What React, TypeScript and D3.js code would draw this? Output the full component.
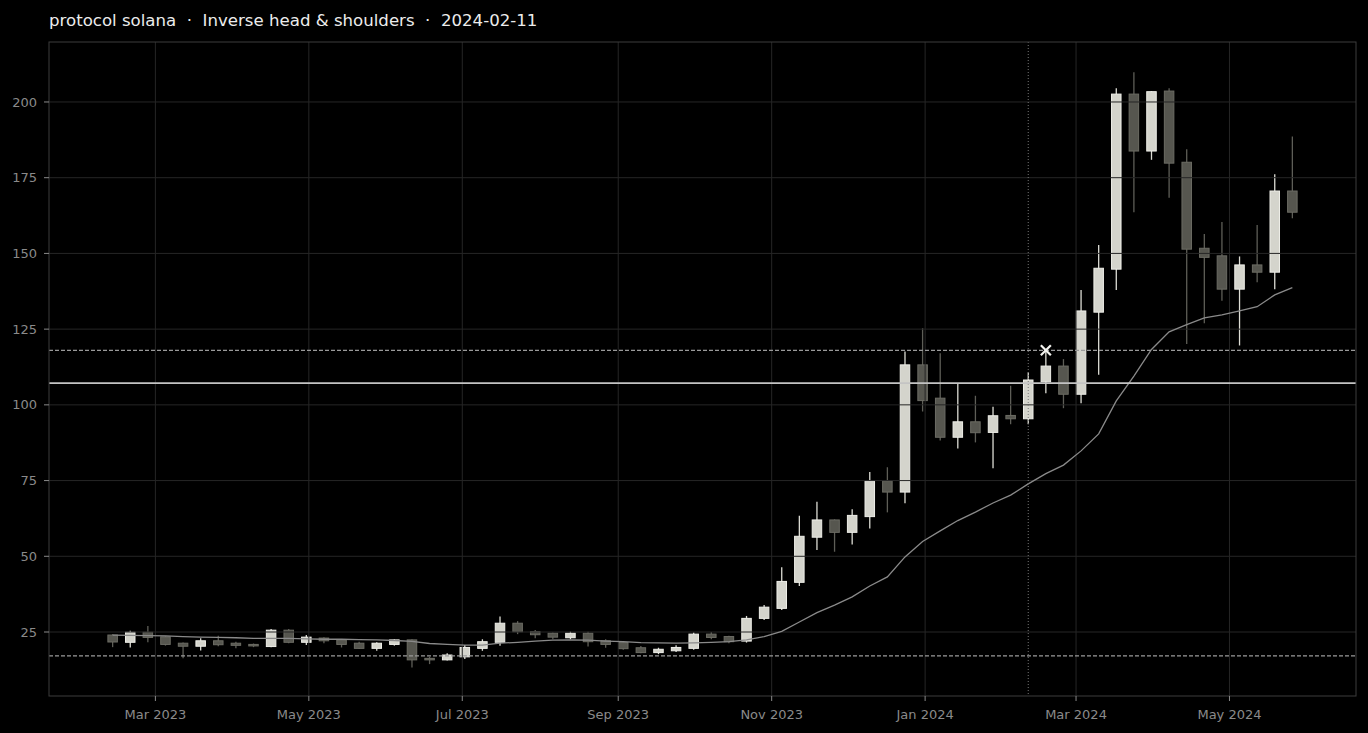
import * as d3 from "d3"

// weekly candles, first week starts Sunday 2023-02-12
const firstWeek = "2023-02-12"
const opens = [
  24.0, 21.6, 24.9, 23.4, 21.3, 20.3, 22.1, 21.3, 20.9, 20.2, 25.6, 21.6,
  23.0, 22.4, 21.3, 19.6, 20.9, 22.4, 16.3, 15.8, 16.8, 19.6, 21.6, 27.9,
  25.1, 24.6, 23.1, 24.6, 22.1, 21.5, 19.8, 18.2, 18.8, 19.6, 24.3, 23.5,
  22.0, 29.5, 32.8, 41.4, 56.3, 62.0, 57.9, 63.1, 74.9, 71.2, 113.2, 102.2,
  89.3, 94.4, 90.9, 96.5, 95.4, 107.6, 112.8, 103.5, 130.6, 144.8, 202.6, 183.8,
  203.6, 180.1, 151.7, 149.2, 138.2, 146.2, 143.8, 170.6,
]
const highs = [
  24.3, 25.4, 27.0, 23.6, 21.5, 22.9, 23.8, 21.8, 21.2, 26.0, 26.0, 24.0,
  23.3, 22.6, 21.8, 21.6, 22.6, 22.6, 16.8, 18.0, 20.7, 22.6, 30.1, 28.6,
  25.7, 24.8, 25.1, 25.1, 22.6, 21.9, 20.4, 19.8, 20.6, 24.8, 25.0, 23.8,
  30.3, 33.9, 46.4, 63.4, 68.0, 62.2, 65.5, 77.8, 79.4, 117.6, 125.3, 117.0,
  106.9, 103.0, 99.4, 106.3, 110.7, 118.0, 115.1, 137.9, 152.8, 204.5, 209.8, 203.6,
  204.5, 184.4, 156.4, 160.4, 149.0, 159.4, 176.1, 188.6,
]
const lows = [
  20.0, 19.9, 21.6, 20.5, 16.3, 18.9, 20.3, 19.6, 20.0, 20.0, 21.3, 20.7,
  21.3, 19.9, 19.4, 18.8, 20.5, 13.3, 14.4, 15.6, 16.1, 18.8, 20.5, 24.3,
  22.9, 22.6, 22.6, 20.2, 19.8, 19.1, 18.0, 17.7, 18.4, 19.1, 22.6, 21.3,
  21.5, 29.0, 32.3, 40.2, 52.1, 51.5, 53.9, 59.2, 64.5, 67.5, 97.8, 88.2,
  85.6, 87.6, 79.1, 93.6, 93.6, 103.8, 98.9, 100.5, 109.9, 137.9, 163.6, 180.9,
  168.4, 120.1, 126.9, 134.4, 119.6, 140.5, 138.2, 161.6,
]
const closes = [
  21.7, 24.9, 23.2, 20.9, 20.3, 22.1, 20.8, 20.6, 20.4, 25.6, 21.6, 23.3,
  22.1, 20.9, 19.6, 21.3, 22.4, 15.8, 15.8, 17.4, 19.9, 21.8, 27.9, 25.1,
  24.1, 23.3, 24.6, 21.8, 20.9, 19.5, 18.2, 19.3, 19.9, 24.3, 23.2, 21.8,
  29.5, 33.2, 41.7, 56.6, 62.0, 57.9, 63.5, 74.9, 71.2, 113.2, 101.4, 89.3,
  94.4, 90.8, 96.4, 95.4, 108.2, 112.8, 103.5, 131.0, 145.1, 202.6, 183.8, 203.4,
  179.8, 151.4, 148.7, 138.2, 146.2, 143.8, 170.6, 163.6,
]
const movingAvg = [
  24.0, 23.9, 23.8, 23.7, 23.5, 23.3, 23.2, 23.1, 22.9, 22.9, 22.9, 22.7,
  22.6, 22.6, 22.5, 22.4, 22.2, 21.9, 21.2, 20.9, 20.7, 20.7, 21.3, 21.6,
  22.0, 22.3, 22.4, 22.3, 22.0, 21.8, 21.5, 21.4, 21.3, 21.4, 21.6, 21.8,
  22.4, 23.5, 25.2, 28.3, 31.4, 33.9, 36.6, 40.2, 43.2, 49.8, 54.9, 58.4,
  61.8, 64.6, 67.6, 70.2, 73.9, 77.3, 80.1, 84.8, 90.4, 101.3, 109.5, 118.3,
  124.1, 126.5, 128.7, 129.7, 131.0, 132.4, 136.3, 138.7,
]

const necklineLevel = 107.2
const upperBand = 118
const lowerBand = 17.1
const signalDate = "2024-02-11"
const breakoutDate = "2024-02-18"
const breakoutPrice = 118
const yTicks = [25, 50, 75, 100, 125, 150, 175, 200]
const title = "protocol solana  ·  Inverse head & shoulders  ·  2024-02-11"

const W = 1368
const H = 733
const margin = { top: 42, right: 12, bottom: 37, left: 49 }
const FONT = "'DejaVu Sans', sans-serif"

const parse = d3.utcParse("%Y-%m-%d")
const fmtTick = d3.utcFormat("%b %Y")

export default function App() {
  const start = parse(firstWeek) as Date
  const dates = opens.map((_, i) => d3.utcDay.offset(start, i * 7))
  const candles = dates.map((date, i) => ({
    date,
    open: opens[i],
    high: highs[i],
    low: lows[i],
    close: closes[i],
    ma: movingAvg[i],
  }))

  const innerW = W - margin.left - margin.right
  const innerH = H - margin.top - margin.bottom
  const pad = 25.3 * 864e5

  const x = d3.scaleUtc()
    .domain([+dates[0] - pad, +dates[dates.length - 1] + pad])
    .range([margin.left, margin.left + innerW])

  const y = d3.scaleLinear()
    .domain([3.87, 219.8])
    .range([margin.top + innerH, margin.top])

  const xTicks = x.ticks(d3.utcMonth.every(2) as d3.TimeInterval)
  const bodyW = (x(dates[1]) - x(dates[0])) * 0.54

  const maLine = d3.line<(typeof candles)[number]>()
    .x(d => x(d.date))
    .y(d => y(d.ma))

  const x0 = margin.left
  const x1 = margin.left + innerW
  const y0 = margin.top
  const y1 = margin.top + innerH
  const sig = x(parse(signalDate) as Date)
  const bx = x(parse(breakoutDate) as Date)
  const by = y(breakoutPrice)

  return (
    <div style={{ position: "absolute", left: 0, top: 0 }}>
      <svg width={W} height={H} style={{ display: "block", background: "#000" }}>
        <rect x={0} y={0} width={W} height={H} fill="#000" />

        <text x={x0} y={26} fill="#ececec" fontFamily={FONT} fontSize={16.6} style={{ whiteSpace: "pre" }}>
          {title}
        </text>

        {/* candles */}
        <g>
          {candles.map((d, i) => {
            const up = d.close >= d.open
            const top = y(Math.max(d.open, d.close))
            const bot = y(Math.min(d.open, d.close))
            const cx = x(d.date)
            return (
              <g key={i}>
                <line
                  x1={cx} x2={cx} y1={y(d.high)} y2={y(d.low)}
                  stroke={up ? "#dcdcd4" : "#5e5e57"} strokeWidth={1.3}
                />
                <rect
                  x={cx - bodyW / 2} y={top} width={bodyW} height={Math.max(1, bot - top)}
                  fill={up ? "#d4d4cc" : "#56564f"}
                  stroke={up ? "#eeeee8" : "#6c6c64"} strokeWidth={1}
                />
              </g>
            )
          })}
        </g>

        {/* grid */}
        <g stroke="#262626" strokeWidth={1}>
          {yTicks.map(t => (
            <line key={t} x1={x0} x2={x1} y1={y(t)} y2={y(t)} />
          ))}
          {xTicks.map(t => (
            <line key={+t} x1={x(t)} x2={x(t)} y1={y0} y2={y1} />
          ))}
        </g>

        <path d={maLine(candles) ?? ""} fill="none" stroke="#8a8a8a" strokeWidth={1.3} />

        <line x1={x0} x2={x1} y1={y(necklineLevel)} y2={y(necklineLevel)} stroke="#c4c4c4" strokeWidth={1.8} />
        <line x1={x0} x2={x1} y1={y(upperBand)} y2={y(upperBand)} stroke="#9a9a9a" strokeWidth={1.3} strokeDasharray="4 2" />
        <line x1={x0} x2={x1} y1={y(lowerBand)} y2={y(lowerBand)} stroke="#9a9a9a" strokeWidth={1.3} strokeDasharray="4 2" />
        <line x1={sig} x2={sig} y1={y0} y2={y1} stroke="#777" strokeWidth={1} strokeDasharray="1 2" />

        <g stroke="#f4f4f0" strokeWidth={2.2} strokeLinecap="butt">
          <line x1={bx - 5} x2={bx + 5} y1={by - 5} y2={by + 5} />
          <line x1={bx - 5} x2={bx + 5} y1={by + 5} y2={by - 5} />
        </g>

        {/* frame */}
        <rect x={x0} y={y0} width={innerW} height={innerH} fill="none" stroke="#3c3c3c" strokeWidth={1} />

        {/* axes */}
        <g fontFamily={FONT} fontSize={13} fill="#8a8a8a">
          {yTicks.map(t => (
            <g key={t}>
              <line x1={x0 - 5} x2={x0} y1={y(t)} y2={y(t)} stroke="#8a8a8a" strokeWidth={1} />
              <text x={x0 - 12} y={y(t)} dy="0.35em" textAnchor="end">{t}</text>
            </g>
          ))}
          {xTicks.map(t => (
            <g key={+t}>
              <line x1={x(t)} x2={x(t)} y1={y1} y2={y1 + 5} stroke="#8a8a8a" strokeWidth={1} />
              <text x={x(t)} y={y1 + 23} textAnchor="middle">{fmtTick(t)}</text>
            </g>
          ))}
        </g>
      </svg>
    </div>
  )
}
